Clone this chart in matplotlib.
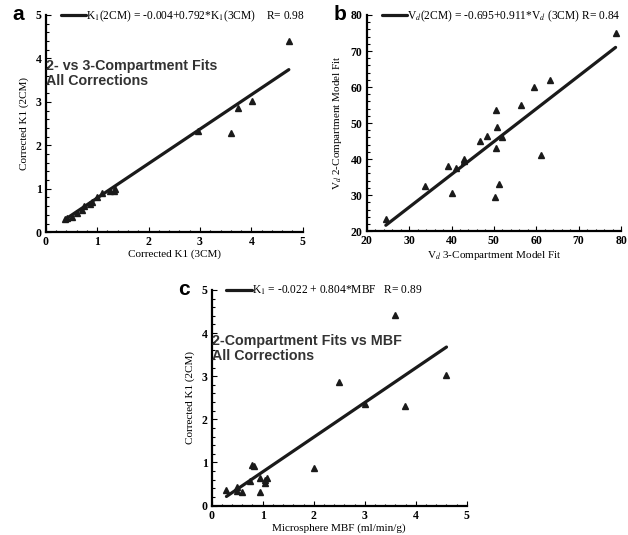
import numpy as np
import matplotlib
matplotlib.use("Agg")
import matplotlib.pyplot as plt
from matplotlib.ticker import AutoMinorLocator

plt.rcParams['font.family'] = 'Liberation Serif'
plt.rcParams['mathtext.fontset'] = 'stix'

# panel a: 2CM vs 3CM K1
a_x = [0.38, 0.42, 0.5, 0.6, 0.7, 0.75, 0.85, 0.9, 1.0, 1.1, 1.25, 1.32, 1.35,
       2.97, 3.61, 3.74, 4.02, 4.73]
a_y = [0.3, 0.32, 0.36, 0.45, 0.52, 0.6, 0.65, 0.7, 0.82, 0.9, 0.95, 0.95, 1.0,
       2.34, 2.28, 2.87, 3.02, 4.4]
a_fit = (-0.004, 0.792)

# panel b: Vd
b_x = [24.5, 33.8, 39.2, 40.2, 41.0, 43.0, 43.0, 46.7, 48.3, 50.3, 50.5, 50.5,
       50.8, 51.3, 52.0, 56.5, 59.5, 61.0, 63.2, 78.7]
b_y = [23.5, 32.5, 38.0, 30.5, 37.5, 40.0, 39.5, 45.0, 46.5, 29.5, 43.0, 53.5,
       49.0, 33.0, 46.0, 55.0, 60.0, 41.0, 62.0, 75.0]
b_fit = (-0.695, 0.911)

# panel c: K1 vs microsphere MBF
c_x = [0.29, 0.5, 0.5, 0.6, 0.75, 0.8, 0.82, 0.95, 0.95, 1.04, 1.05, 1.08,
       2.0, 2.49, 3.0, 3.6, 3.79, 4.6]
c_y = [0.36, 0.44, 0.33, 0.31, 0.56, 0.94, 0.92, 0.31, 0.63, 0.52, 0.6, 0.63,
       0.88, 2.87, 2.36, 4.42, 2.31, 3.03]
c_fit = (-0.022, 0.804)

fig = plt.figure(figsize=(6.28, 5.35), dpi=100)


def panel(rect, xs, ys, fit, lims, label, xlab, ylab, letter, note=None):
    ax = fig.add_axes(rect)
    xs = np.array(xs)
    xl = np.array([xs.min(), xs.max()])
    ax.plot(xl, fit[0] + fit[1] * xl, color='#1a1a1a', lw=2.3, label=label,
            solid_capstyle='round')
    ax.plot(xs, ys, ls='none', marker='^', ms=4.5, color='#1a1a1a')
    ax.set_xlim(lims)
    ax.set_ylim(lims)
    for s in ['top', 'right']:
        ax.spines[s].set_visible(False)
    for s in ['left', 'bottom']:
        ax.spines[s].set_linewidth(1.6)
    ax.xaxis.set_minor_locator(AutoMinorLocator(5))
    ax.yaxis.set_minor_locator(AutoMinorLocator(5))
    ax.tick_params(which='both', direction='in', width=0.8)
    ax.tick_params(which='major', length=3.5, labelsize=8.5, pad=3)
    ax.tick_params(which='minor', length=1.8)
    for t in ax.get_xticklabels() + ax.get_yticklabels():
        t.set_fontweight('bold')
    ax.set_xlabel(xlab, fontsize=8, labelpad=1)
    ax.set_ylabel(ylab, fontsize=8, labelpad=5)
    ax.legend(loc='upper left', bbox_to_anchor=(0.04, 1.05), frameon=False,
              handlelength=2.2, handletextpad=0.0, borderaxespad=0,
              fontsize=8.3)
    ax.text(-0.13, 1.0, letter, transform=ax.transAxes, fontsize=15,
            fontweight='bold', family='Liberation Sans', va='center')
    if note:
        ax.text(0.0, 0.73, note, transform=ax.transAxes, fontsize=10.3,
                fontweight='bold', family='Liberation Sans', va='center',
                color='#333333', linespacing=1.1)
    return ax


panel([0.073, 0.566, 0.409, 0.406], a_x, a_y, a_fit, (0, 5),
      r'K$_1$(2CM) = -0.004+0.792*K$_1$(3CM)    R= 0.98',
      'Corrected K1 (3CM)', 'Corrected K1 (2CM)', 'a',
      '2- vs 3-Compartment Fits\nAll Corrections')
panel([0.584, 0.568, 0.405, 0.404], b_x, b_y, b_fit, (20, 80),
      r'V$_d$(2CM) = -0.695+0.911*V$_d$ (3CM) R= 0.84',
      r'V$_d$ 3-Compartment Model Fit', r'V$_d$ 2-Compartment Model Fit', 'b')
panel([0.337, 0.055, 0.4065, 0.403], c_x, c_y, c_fit, (0, 5),
      r'K$_1$ = -0.022 + 0.804*MBF   R= 0.89',
      'Microsphere MBF (ml/min/g)', 'Corrected K1 (2CM)', 'c',
      '2-Compartment Fits vs MBF\nAll Corrections')

fig.savefig('out.png', dpi=100)
